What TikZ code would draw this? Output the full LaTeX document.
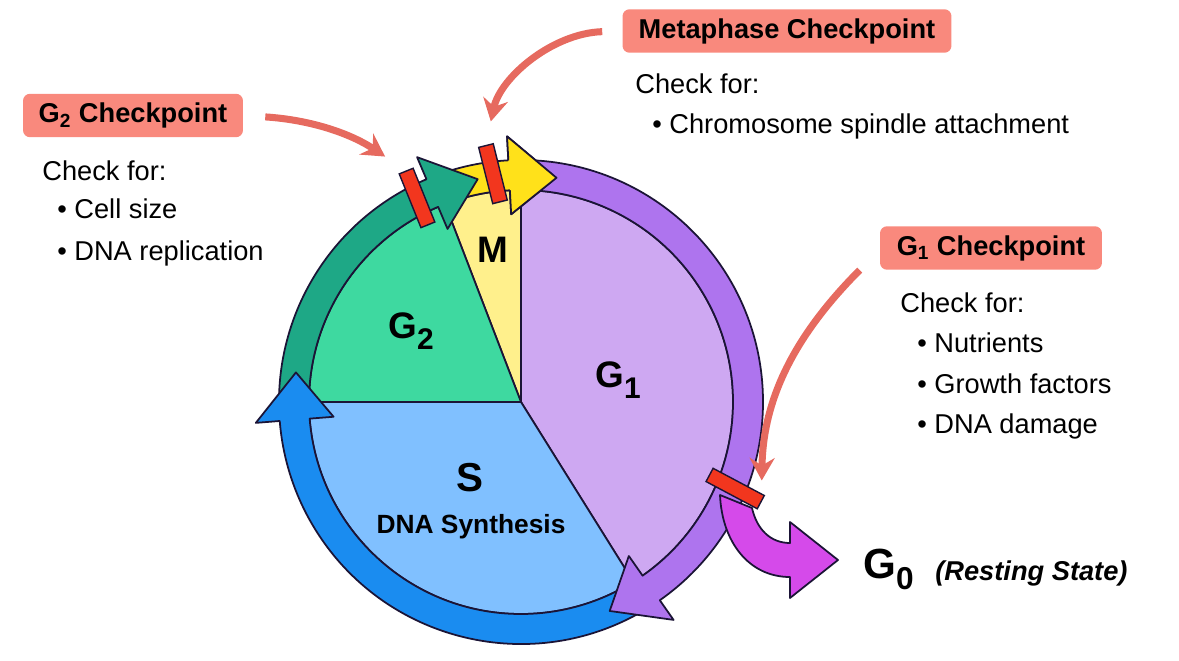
\documentclass[tikz,border=0pt]{standalone}
\usepackage{fontspec}
\setmainfont{Liberation Sans}
\usetikzlibrary{arrows.meta}

\definecolor{edge}{HTML}{1B1436}
\definecolor{g1fill}{HTML}{CEA8F2}
\definecolor{g1ring}{HTML}{AE74EE}
\definecolor{mfill}{HTML}{FFF08C}
\definecolor{mring}{HTML}{FFE11A}
\definecolor{g2fill}{HTML}{3ED9A0}
\definecolor{g2ring}{HTML}{1EA886}
\definecolor{sfill}{HTML}{80C0FF}
\definecolor{sring}{HTML}{1A8CF0}
\definecolor{g0arrow}{HTML}{D54AEA}
\definecolor{barred}{HTML}{F2361E}
\definecolor{pointerred}{HTML}{E66A5F}
\definecolor{boxred}{HTML}{F9897D}

\newcommand{\ringarrow}[3]{%
  \filldraw[ring, fill=#1] (#2:242) arc[start angle=#2, end angle=#3, radius=242]
    -- (#3:266) -- ({#3-12}:227) -- (#3:188) -- (#3:212)
    arc[start angle=#3, end angle=#2, radius=212] -- cycle;}
\newcommand{\lowsub}[2]{\raisebox{-0.23cm}{\fontsize{#1}{#1}\selectfont #2}}

\begin{document}
\begin{tikzpicture}[
    x=0.02cm, y=0.02cm,
    pie/.style={draw=edge, line width=1pt},
    ring/.style={draw=edge, line width=1pt, line join=round},
    cpbox/.style={fill=boxred, rounded corners=4pt, minimum height=0.87cm, inner sep=0pt, font=\bfseries\fontsize{15.5}{18}\selectfont},
    checktext/.style={anchor=base west, inner sep=0pt, font=\fontsize{15.5}{18}\selectfont},
    bar/.style={draw=edge, fill=barred, line width=0.8pt, minimum width=1.16cm, minimum height=0.3cm, inner sep=0pt},
    pointer/.style={draw=pointerred, line width=4pt, -{Stealth[length=4.5mm, width=5mm, inset=1.5mm]}},
    phase/.style={inner sep=0pt, font=\bfseries\fontsize{21}{24}\selectfont}
  ]
    \useasboundingbox (-521,-258) rectangle (658,402);

    \filldraw[pie, fill=g1fill] (0,0) -- (-58:212) arc[start angle=-58, end angle=90, radius=212] -- cycle;
    \filldraw[pie, fill=mfill] (0,0) -- (90:212) arc[start angle=90, end angle=111, radius=212] -- cycle;
    \filldraw[pie, fill=g2fill] (0,0) -- (111:212) arc[start angle=111, end angle=180, radius=212] -- cycle;
    \filldraw[pie, fill=sfill] (0,0) -- (180:212) arc[start angle=180, end angle=302, radius=212] -- cycle;

    \ringarrow{mring}{108}{93}
    \ringarrow{g2ring}{179}{113}
    \ringarrow{sring}{300}{184.5}
    \ringarrow{g1ring}{88}{-55}
    \fill[mring] (93:188) -- (81:227) -- (93:266) -- cycle;
    \draw[ring] (93:212) -- (93:188) -- (81:227) -- (93:266) -- (93:242);

    \filldraw[ring, fill=g0arrow] (199,-93) -- (231,-106) .. controls (236,-128) and (250,-141) .. (269,-141)
      -- (269,-120) -- (317,-158) -- (269,-196) -- (269,-175) .. controls (228,-175) and (201,-140) .. (199,-93) -- cycle;

    \node[bar, rotate=112] (g2bar) at (117:229) {};
    \node[bar, rotate=104] (mbar) at (97:230) {};
    \node[bar, rotate=-28] (g1bar) at (-22:231) {};

    \node[phase] (mlabel) at (-28,152) {M};
    \node[phase, anchor=base west] (g2label) at (-133,64) {G\lowsub{17}{2}};
    \node[phase, anchor=base west] (g1label) at (74,15) {G\lowsub{17}{1}};
    \node[phase, font=\bfseries\fontsize{23}{26}\selectfont] (slabel) at (-51,-76) {S};
    \node[phase, font=\bfseries\fontsize{15}{18}\selectfont] (dnasyn) at (-50,-125) {DNA Synthesis};

    \node[cpbox, minimum width=4.4cm] (g2box) at (-388,286.5) {G\textsubscript{2} Checkpoint};
    \node[checktext] (g2check) at (-479,222) {Check for:};
    \node[checktext] (g2size) at (-464,184) {\textbullet\ Cell size};
    \node[checktext] (g2dna) at (-464,142) {\textbullet\ DNA replication};

    \node[cpbox, minimum width=6.58cm] (metabox) at (266,371) {Metaphase Checkpoint};
    \node[checktext] (metacheck) at (114,309) {Check for:};
    \node[checktext] (metaspindle) at (131,269) {\textbullet\ Chromosome spindle attachment};

    \node[cpbox, minimum width=4.44cm] (g1box) at (470,154) {G\textsubscript{1} Checkpoint};
    \node[checktext] (g1check) at (379,90) {Check for:};
    \node[checktext] (g1nutr) at (396,50) {\textbullet\ Nutrients};
    \node[checktext] (g1growth) at (396,9) {\textbullet\ Growth factors};
    \node[checktext] (g1damage) at (396,-31) {\textbullet\ DNA damage};

    \node[anchor=base west, inner sep=0pt, font=\bfseries\fontsize{24}{28}\selectfont] (g0label) at (342,-176) {G\raisebox{-0.22cm}{\fontsize{18}{20}\selectfont 0}};
    \node[anchor=base west, inner sep=0pt, font=\bfseries\itshape\fontsize{15.5}{18}\selectfont] (restlabel) at (414,-178) {(Resting State)};

    \draw[pointer, shorten <=0.44cm, shorten >=0.5cm] (g2box.east) to[bend left=15] (g2bar.east);
    \draw[pointer, shorten <=0.4cm, shorten >=0.48cm] (metabox.west) to[bend right=38] (mbar.east);
    \draw[pointer, shorten >=0.44cm] ([xshift=-0.4cm]g1box.south west) to[bend right=22] (g1bar.east);
  \end{tikzpicture}
\end{document}
